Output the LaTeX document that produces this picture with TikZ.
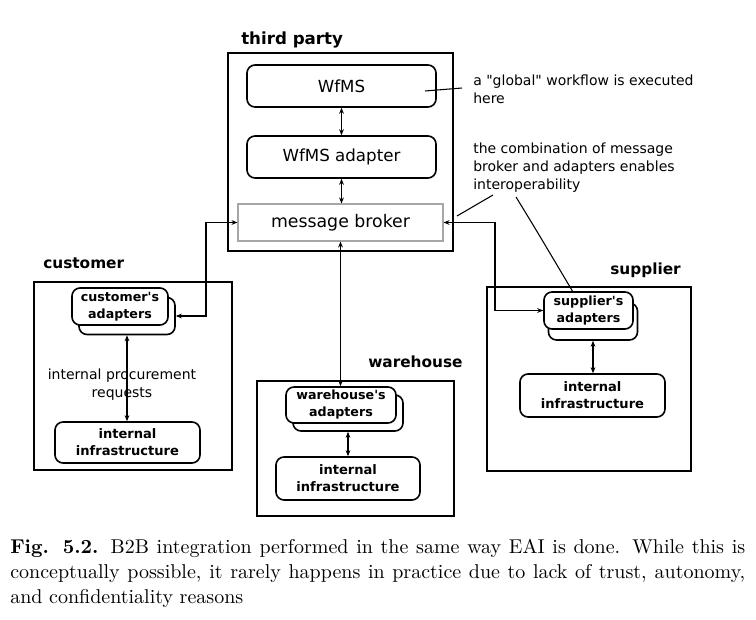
\documentclass[tikz,border=0pt]{standalone}
\usepackage{fontspec}
\newfontfamily\comic{DejaVu Sans}
\newfontfamily\capfont{lmroman10}[Extension=.otf,UprightFont=*-regular,BoldFont=*-bold]
\usetikzlibrary{arrows.meta}
\tikzset{
  outerbox/.style={draw, line width=1.6pt, inner sep=0pt},
  ibox/.style={draw, line width=1.2pt, rounded corners=6pt, fill=white, inner sep=0pt, align=center},
  headlbl/.style={anchor=base west, inner sep=0pt, font=\comic\bfseries},
  smallbold/.style={font={\comic\bfseries\fontsize{9.5}{12.75}\selectfont}},
  infrabold/.style={font={\comic\bfseries\fontsize{9.8}{12.75}\selectfont}},
  bigreg/.style={font={\comic\fontsize{12.5}{15}\selectfont}},
  arr/.style={line width=0.9pt, {Stealth[length=4.5pt,width=3.6pt]}-{Stealth[length=4.5pt,width=3.6pt]}},
  leader/.style={line width=0.8pt},
  annot/.style={anchor=base west, inner sep=0pt, font={\comic\fontsize{10.5}{13.5}\selectfont}},
  capline/.style={anchor=base west, inner sep=0pt, font={\capfont\fontsize{15}{18.75}\selectfont}}
}
\begin{document}
\begin{tikzpicture}[x=0.75pt,y=-0.75pt]
\useasboundingbox (0,0) rectangle (756,620);

% outer boxes
\node[outerbox, minimum width=168.75pt, minimum height=148.5pt] (tp) at (340.5,152) {};
\node[outerbox, minimum width=148.5pt, minimum height=141pt] (cust) at (133,376) {};
\node[outerbox, minimum width=147.75pt, minimum height=101.25pt] (wh) at (355.5,448.5) {};
\node[outerbox, minimum width=153pt, minimum height=138pt] (sup) at (589,379) {};

% headings
\node[headlbl, font={\comic\bfseries\fontsize{12.5}{15}\selectfont}] (tplbl) at (241,45) {third party};
\node[headlbl, font={\comic\bfseries\fontsize{11.5}{14}\selectfont}] (custlbl) at (43,268) {customer};
\node[headlbl, font={\comic\bfseries\fontsize{11.5}{14}\selectfont}] (whlbl) at (368,367) {warehouse};
\node[headlbl, font={\comic\bfseries\fontsize{11.5}{14}\selectfont}] (suplbl) at (610,274) {supplier};

% third party inner
\node[ibox, bigreg, minimum width=141.75pt, minimum height=31.5pt] (wfms) at (341.5,86) {WfMS};
\node[ibox, bigreg, minimum width=141.75pt, minimum height=31.5pt] (wfmsad) at (341.5,157) {WfMS adapter};
\node[draw=black!35, line width=0.8pt, inner sep=0pt, fill=white, minimum width=153.75pt, minimum height=27.75pt,
      font={\comic\fontsize{13}{15}\selectfont}] (broker) at (340.5,222.5) {message broker};

% customer
\node[ibox, minimum width=72pt, minimum height=27.75pt] (custback) at (127,316) {};
\node[ibox, smallbold, minimum width=72pt, minimum height=27.75pt] (custfront) at (120,306.5) {customer's\\adapters};
\node[ibox, infrabold, minimum width=108.75pt, minimum height=30.75pt] (cinfra) at (127.5,442.5) {internal\\infrastructure};
\node[inner sep=0pt, align=center, font={\comic\fontsize{10.5}{13}\selectfont}] (proc) at (122,384.5) {internal procurement\\requests};

% warehouse
\node[ibox, minimum width=82.5pt, minimum height=27pt] (whback) at (348,413) {};
\node[ibox, smallbold, minimum width=82.5pt, minimum height=27pt] (whfront) at (341,405) {warehouse's\\adapters};
\node[ibox, infrabold, minimum width=108pt, minimum height=32.25pt] (whinfra) at (348,478.5) {internal\\infrastructure};

% supplier
\node[ibox, minimum width=66.75pt, minimum height=27.75pt] (supback) at (593,321.5) {};
\node[ibox, smallbold, minimum width=66.75pt, minimum height=27.75pt] (supfront) at (588.5,310.5) {supplier's\\adapters};
\node[ibox, infrabold, minimum width=108.75pt, minimum height=32.25pt] (supinfra) at (592.5,395.5) {internal\\infrastructure};

% connectors
\draw[arr] (wfms.south) -- (wfmsad.north);
\draw[arr] (wfmsad.south) -- (wfmsad.south |- broker.north);
\draw[arr] (broker.south) -- (broker.south |- whfront.north);
\coordinate (lc) at (206,0);
\coordinate (rc) at (495,0);
\draw[arr] (broker.west) -| (lc |- custback.east) -- (custback.east);
\draw[arr] (broker.east) -| (rc |- supfront.west) -- (supfront.west);
\draw[arr] (custback.south) -- (custback.south |- cinfra.north);
\draw[arr] (whback.south) -- (whback.south |- whinfra.north);
\draw[arr] (supback.south) -- (supback.south |- supinfra.north);

% annotations
\node[annot] (ann1) at (473,86) {\vtop{\hbox{a "global" workflow is executed}\hbox{here}}};
\node[annot] (ann2) at (473,154) {\vtop{\hbox{the combination of message}\hbox{broker and adapters enables}\hbox{interoperability}}};
\coordinate (g1) at (425,91);
\coordinate (g2) at (462,88);
\draw[leader] (g1) -- (g2);
\coordinate (i1) at (493,195);
\coordinate (i2) at (457,216);
\coordinate (i3) at (516,197);
\coordinate (i4) at (573,292);
\draw[leader] (i1) -- (i2);
\draw[leader] (i3) .. controls (535,228) .. (i4);

% caption
\node[capline] (cap1) at (10,553) {\hbox to 551.25pt{\textbf{Fig. 5.2.} B2B integration performed in the same way EAI is done. While this is}};
\node[capline] (cap2) at (10,578) {\hbox to 551.25pt{conceptually possible, it rarely happens in practice due to lack of trust, autonomy,}};
\node[capline] (cap3) at (10,603) {and confidentiality reasons};
\end{tikzpicture}
\end{document}
